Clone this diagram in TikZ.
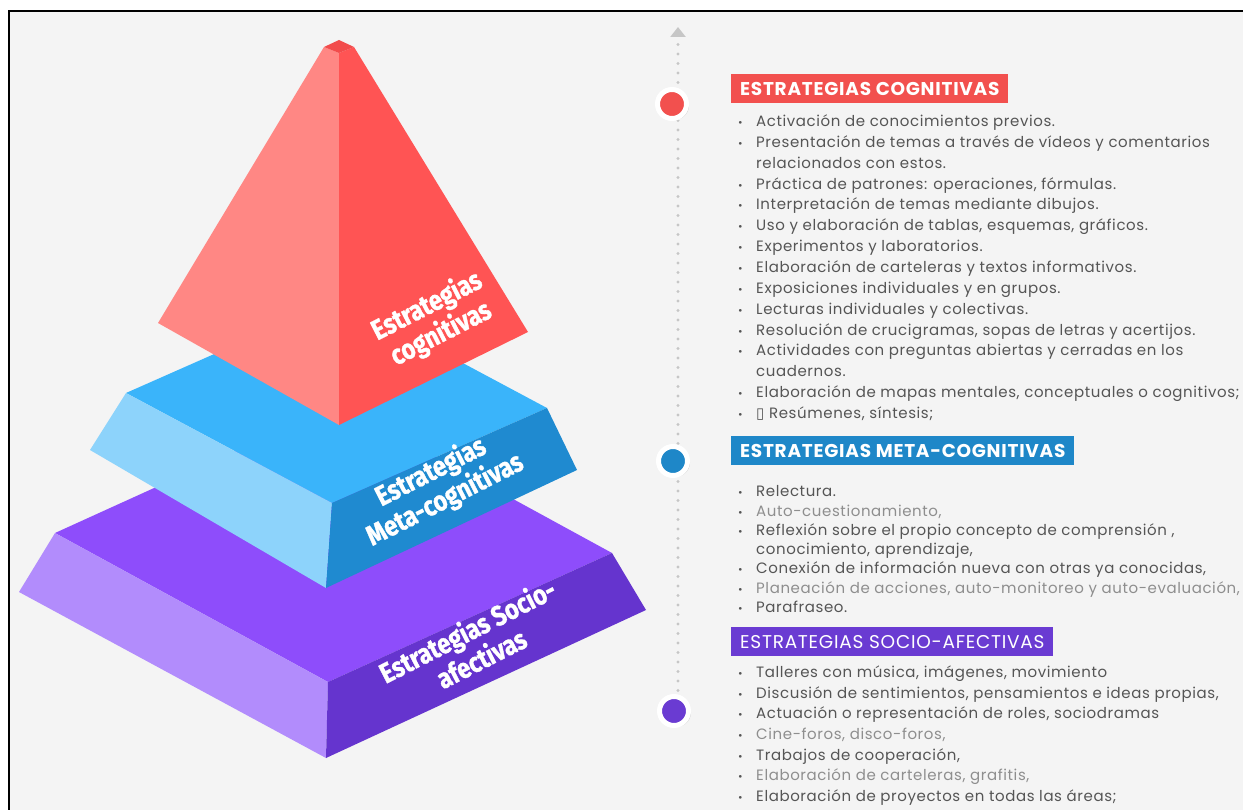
\documentclass[tikz,border=0pt]{standalone}
\usepackage{fontspec}
\setmainfont[LetterSpace=4]{Poppins}
\newfontfamily\pyrfont[FakeStretch=0.84,BoldFeatures={FakeBold=1.2}]{Fira Sans}
\newfontfamily\symfont{DejaVu Sans}
\usepackage{tikz}
\usetikzlibrary{arrows.meta,shadows,positioning}

\definecolor{bggray}{HTML}{F4F4F4}
\definecolor{redL}{HTML}{FF8784}
\definecolor{redR}{HTML}{FF5454}
\definecolor{redT}{HTML}{F24C4C}
\definecolor{blueT}{HTML}{3AB4FA}
\definecolor{blueL}{HTML}{8DD3FB}
\definecolor{blueR}{HTML}{1F8AD0}
\definecolor{purT}{HTML}{8E4DFB}
\definecolor{purL}{HTML}{B28CFC}
\definecolor{purR}{HTML}{6534CE}
\definecolor{headred}{HTML}{F2504E}
\definecolor{headblue}{HTML}{1E87C8}
\definecolor{headpur}{HTML}{6A3BD2}
\definecolor{txtgray}{HTML}{555555}
\definecolor{softgray}{HTML}{8E8E8E}
\definecolor{dotgray}{HTML}{C6C6C6}

\newcommand{\itm}[1]{\makebox[19pt][l]{\hspace{1pt}{\fontsize{11}{11}\selectfont •}}#1}
\newcommand{\cont}[1]{\hspace*{19pt}#1}
\newcommand{\soft}[1]{\textcolor{softgray}{#1}}

\begin{document}
\begin{tikzpicture}[x=1pt,y=-1pt,
    head/.style={anchor=north west,minimum height=29pt,inner xsep=9pt,inner ysep=0pt,
        text=white,font=\fontsize{18.5}{20}\selectfont\bfseries},
    items/.style={align=left,inner sep=0pt,text=txtgray},
    pyrlabel/.style={text=white,align=center,rotate=27,
        font=\pyrfont\bfseries\fontsize{28}{31}\selectfont},
    dotmark/.style={circle,minimum size=29pt,inner sep=0pt,draw=white,line width=5pt,
        drop shadow={shadow xshift=2.5pt,shadow yshift=-1.5pt,opacity=0.3}}]

  \useasboundingbox (0,0) rectangle (1243,810);
  \fill[white] (0,0) rectangle (1243,810);
  \fill[bggray] (8,11) rectangle (1243,810);
  \draw[line width=2pt] (8.5,810) -- (8.5,11) -- (1243,11);

  % bottom layer
  \coordinate (pTL) at (55,533);  \coordinate (pTF) at (328,682);
  \coordinate (pTR) at (612,553); \coordinate (pTB) at (339,404);
  \coordinate (pBL) at (19,592);  \coordinate (pBF) at (326,758);
  \coordinate (pBR) at (646,610);
  \fill[purT] (pTL) -- (pTB) -- (pTR) -- (pTF) -- cycle;
  \fill[purL] (pTL) -- (pTF) -- (pBF) -- (pBL) -- cycle;
  \fill[purR] (pTF) -- (pTR) -- (pBR) -- (pBF) -- cycle;

  % middle layer
  \coordinate (bTL) at (126,393); \coordinate (bTF) at (332,503);
  \coordinate (bTR) at (547,408); \coordinate (bTB) at (341,298);
  \coordinate (bBL) at (90,450);  \coordinate (bBF) at (326,588);
  \coordinate (bBR) at (577,470);
  \fill[blueT] (bTL) -- (bTB) -- (bTR) -- (bTF) -- cycle;
  \fill[blueL] (bTL) -- (bTF) -- (bBF) -- (bBL) -- cycle;
  \fill[blueR] (bTF) -- (bTR) -- (bBR) -- (bBF) -- cycle;

  % top
  \coordinate (rCL) at (324,47); \coordinate (rCT) at (339,40);
  \coordinate (rCR) at (354,47); \coordinate (rCF) at (339,53);
  \coordinate (rL) at (158,323); \coordinate (rF) at (339,425);
  \coordinate (rR) at (528,332);
  \fill[redL] (rCL) -- (rL) -- (rF) -- (rCF) -- cycle;
  \fill[redR] (rCF) -- (rF) -- (rR) -- (rCR) -- cycle;
  \fill[redT] (rCL) -- (rCT) -- (rCR) -- (rCF) -- cycle;

  \node[pyrlabel] (cogLabel) at (434,320) {Estrategias\\cognitivas};
  \node[pyrlabel] (metaLabel) at (438,486) {Estrategias\\Meta-cognitivas};
  \node[pyrlabel] (socLabel) at (474,644) {Estrategias Socio-\\afectivas};

  % timeline
  \coordinate (lineTop) at (678,27);
  \coordinate (lineBot) at (678,700);
  \draw[dotgray,line width=3.2pt,line cap=round,dash pattern=on 0pt off 9.5pt,
        -{Triangle[width=15pt,length=10pt]}] (lineBot) -- (lineTop);

  \node[dotmark,fill=headred] (cogDot) at (672,104) {};
  \node[dotmark,fill=headblue] (metaDot) at (673,461) {};
  \node[dotmark,fill=headpur] (socDot) at (674,711) {};

  \node[head,fill=headred] (cogHead) at (731,74) {ESTRATEGIAS COGNITIVAS};
  \node[head,fill=headblue] (metaHead) at (731,436) {ESTRATEGIAS META-COGNITIVAS};
  \node[head,fill=headpur,font=\fontsize{18.5}{20}\selectfont] (socHead) at (731,627)
       {ESTRATEGIAS SOCIO-AFECTIVAS};

  \node[items,font=\fontsize{15}{20.86}\selectfont,below right=11pt and 6pt of cogHead.south west]
       (cogList) {\itm{Activación de conocimientos previos.}\\
        \itm{Presentación de temas a través de vídeos y comentarios}\\
        \cont{relacionados con estos.}\\
        \itm{Práctica de patrones: operaciones, fórmulas.}\\
        \itm{Interpretación de temas mediante dibujos.}\\
        \itm{Uso y elaboración de tablas, esquemas, gráficos.}\\
        \itm{Experimentos y laboratorios.}\\
        \itm{Elaboración de carteleras y textos informativos.}\\
        \itm{Exposiciones individuales y en grupos.}\\
        \itm{Lecturas individuales y colectivas.}\\
        \itm{Resolución de crucigramas, sopas de letras y acertijos.}\\
        \itm{Actividades con preguntas abiertas y cerradas en los}\\
        \cont{cuadernos.}\\
        \itm{Elaboración de mapas mentales, conceptuales o cognitivos;}\\
        \itm{{\symfont ▯} Resúmenes, síntesis;}};

  \node[items,font=\fontsize{15}{19.3}\selectfont,below right=20pt and 6pt of metaHead.south west]
       (metaList) {\itm{Relectura.}\\
        \itm{\soft{Auto-cuestionamiento,}}\\
        \itm{Reflexión sobre el propio concepto de comprensión ,}\\
        \cont{conocimiento, aprendizaje,}\\
        \itm{Conexión de información nueva con otras ya conocidas,}\\
        \itm{\soft{Planeación de acciones, auto-monitoreo y auto-evaluación,}}\\
        \itm{Parafraseo.}};

  \node[items,font=\fontsize{15}{20.7}\selectfont,below right=9pt and 6pt of socHead.south west]
       (socList) {\itm{Talleres con música, imágenes, movimiento}\\
        \itm{Discusión de sentimientos, pensamientos e ideas propias,}\\
        \itm{Actuación o representación de roles, sociodramas}\\
        \itm{\soft{Cine-foros, disco-foros,}}\\
        \itm{Trabajos de cooperación,}\\
        \itm{\soft{Elaboración de carteleras, grafitis,}}\\
        \itm{Elaboración de proyectos en todas las áreas;}};

\end{tikzpicture}
\end{document}
